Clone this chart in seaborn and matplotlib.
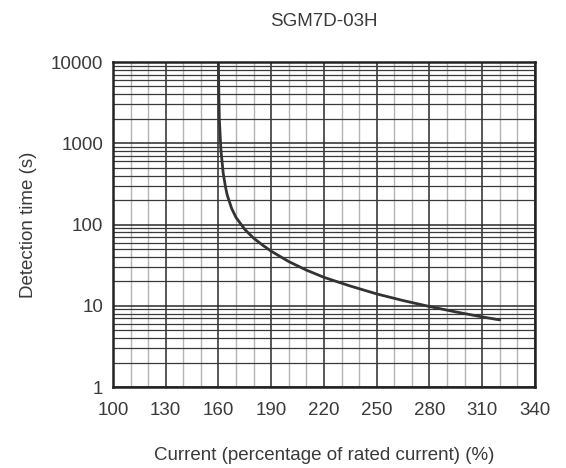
import matplotlib
matplotlib.use("Agg")
import matplotlib.pyplot as plt
import seaborn as sns
import numpy as np
import pandas as pd
from matplotlib.ticker import FixedLocator, NullFormatter

sns.set_theme(style="white")
plt.rcParams['font.family'] = ['Liberation Sans', 'DejaVu Sans']

title = "SGM7D-03H"
x_label = "Current (percentage of rated current) (%)"
y_label = "Detection time (s)"

current = [160, 160.15, 160.5, 161.4, 162.7, 164, 165, 167.5, 170, 175, 180, 185, 190, 200, 210, 220, 235, 250, 265, 280, 295, 310, 320]
det_time = [10000, 5000, 2000, 826, 430, 290, 230, 158, 122, 87, 68, 56, 47, 35, 27.5, 22.4, 17.5, 14, 11.6, 9.8, 8.4, 7.3, 6.7]

x_ticks = [100, 130, 160, 190, 220, 250, 280, 310, 340]
y_ticks = [1, 10, 100, 1000, 10000]
y_tick_labels = ["1", "10", "100", "1000", "10000"]

df = pd.DataFrame({"current": current, "time": det_time})

fig = plt.figure(figsize=(5.66, 4.68), dpi=100)
ax = fig.add_axes([0.1996, 0.173, 0.7454, 0.6945])

ax.set_yscale("log")
ax.set_xlim(100, 340)
ax.set_ylim(1, 10000)

ax.xaxis.set_minor_locator(FixedLocator(list(range(100, 341, 10))))
ax.set_xticks(x_ticks)
ax.set_yticks(y_ticks)
ax.set_yticklabels(y_tick_labels)
ax.yaxis.set_minor_locator(FixedLocator([m * 10**e for e in range(0, 4) for m in range(2, 10)]))
ax.yaxis.set_minor_formatter(NullFormatter())
ax.grid(True, which="minor", axis="x", color="#b5b5b5", lw=1.0)
ax.grid(True, which="major", axis="x", color="#2a2a2a", lw=1.1)
ax.grid(True, which="minor", axis="y", color="#3a3a3a", lw=0.9)
ax.grid(True, which="major", axis="y", color="#2a2a2a", lw=1.1)
ax.set_axisbelow(True)

sns.lineplot(data=df, x="current", y="time", ax=ax, color="#333333", lw=2.0, sort=False)

for s in ax.spines.values():
    s.set_visible(True)
    s.set_color("#222222")
    s.set_linewidth(1.8)

txt = "#3a3a3a"
ax.tick_params(axis="both", which="both", length=0, labelsize=13.5, colors=txt)
ax.tick_params(axis="x", pad=11)
ax.tick_params(axis="y", pad=7)

ax.set_xlabel(x_label, fontsize=13.5, color=txt, labelpad=20)
ax.set_ylabel(y_label, fontsize=13.5, color=txt, labelpad=10)
ax.set_title(title, fontsize=13.5, color=txt, pad=26)

fig.savefig("out.png", dpi=100)
